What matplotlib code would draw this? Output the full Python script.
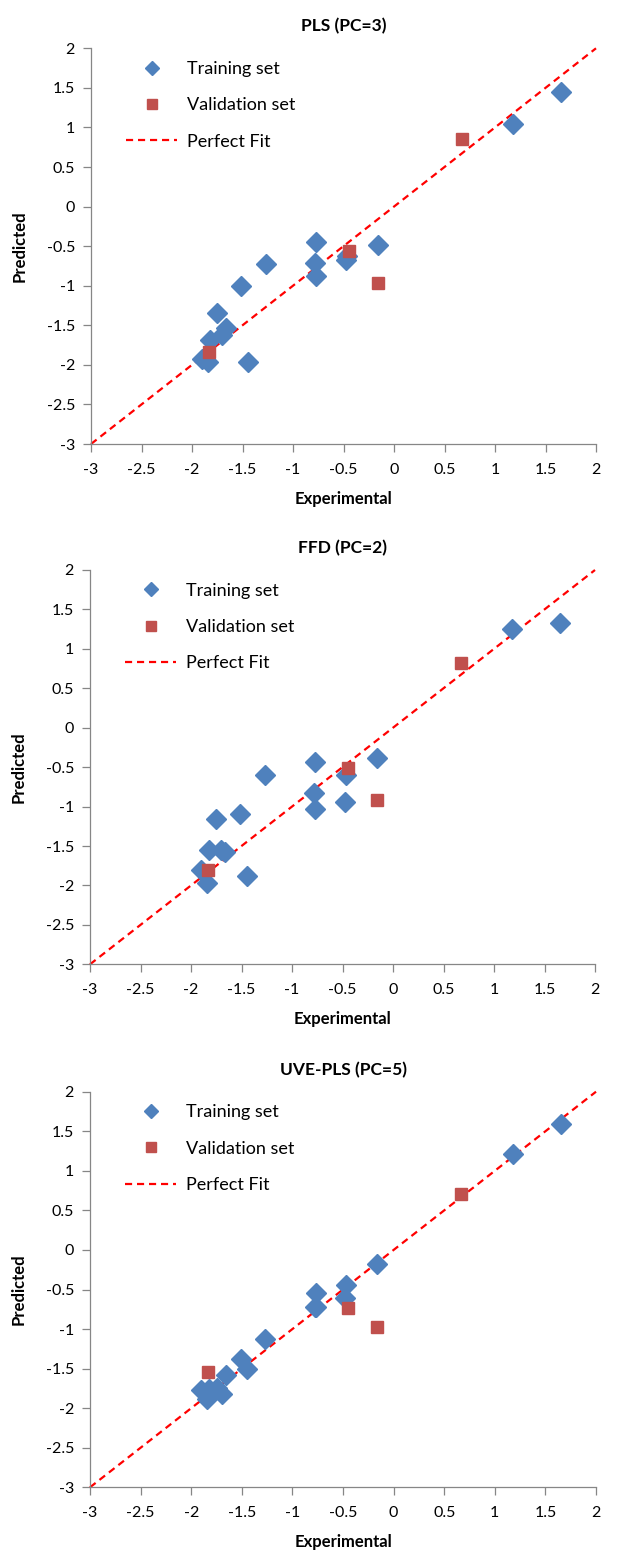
import matplotlib
matplotlib.use("Agg")
import matplotlib.pyplot as plt
from matplotlib.lines import Line2D

plt.rcParams['font.family'] = ['Lato', 'DejaVu Sans']

# ---- data ----
titles = ["PLS (PC=3)", "FFD (PC=2)", "UVE-PLS (PC=5)"]

train_exp = [1.65, 1.18, -0.16, -0.47, -0.48, -0.77, -0.78, -0.77, -1.27,
             -1.51, -1.75, -1.66, -1.70, -1.82, -1.90, -1.84, -1.45]
train_pred_pls = [1.45, 1.04, -0.48, -0.63, -0.67, -0.45, -0.71, -0.88, -0.73,
                  -1.00, -1.35, -1.53, -1.62, -1.68, -1.92, -1.96, -1.96]
train_pred_ffd = [1.33, 1.25, -0.38, -0.60, -0.94, -0.43, -0.83, -1.03, -0.60,
                  -1.10, -1.16, -1.57, -1.55, -1.55, -1.80, -1.97, -1.88]
train_pred_uve = [1.59, 1.21, -0.18, -0.44, -0.61, -0.54, -0.72, -0.72, -1.13,
                  -1.38, -1.75, -1.58, -1.82, -1.76, -1.77, -1.88, -1.50]

val_exp = [0.67, -0.45, -0.16, -1.83]
val_pred_pls = [0.86, -0.56, -0.97, -1.84]
val_pred_ffd = [0.82, -0.51, -0.92, -1.80]
val_pred_uve = [0.71, -0.73, -0.97, -1.54]

train_preds = [train_pred_pls, train_pred_ffd, train_pred_uve]
val_preds = [val_pred_pls, val_pred_ffd, val_pred_uve]

ticks = [-3, -2.5, -2, -1.5, -1, -0.5, 0, 0.5, 1, 1.5, 2]
tick_labels = ["-3", "-2.5", "-2", "-1.5", "-1", "-0.5", "0", "0.5", "1", "1.5", "2"]
fit_line = [-3, 2]

blue = "#4F81BD"
red = "#C0504D"
grey = "#868686"

W, H = 620, 1550
fig = plt.figure(figsize=(W / 100, H / 100), dpi=100)

# axes rectangles in pixels: (left, top(y=2), right, bottom(y=-3))
rects = [(91, 48.3, 596, 444), (90, 570, 595, 964.3), (90, 1091.7, 596, 1487.3)]

for i in range(3):
    l, t, r, b = rects[i]
    ax = fig.add_axes([l / W, 1 - b / H, (r - l) / W, (b - t) / H])
    ax.set_xlim(-3, 2)
    ax.set_ylim(-3, 2)
    ax.plot(fit_line, fit_line, color="#FF0000", lw=1.6, dashes=[3.2, 2.2],
            zorder=2, clip_on=False)
    ax.plot(train_exp, train_preds[i], ls="none", marker="D", ms=10,
            color=blue, mec=blue, zorder=3, clip_on=False)
    ax.plot(val_exp, val_preds[i], ls="none", marker="s", ms=8.2,
            color=red, mec=red, zorder=4, clip_on=False)
    for s in ["top", "right"]:
        ax.spines[s].set_visible(False)
    for s in ["left", "bottom"]:
        ax.spines[s].set_color(grey)
        ax.spines[s].set_linewidth(0.9)
    ax.set_xticks(ticks)
    ax.set_xticklabels(tick_labels)
    ax.set_yticks(ticks)
    ax.set_yticklabels(tick_labels)
    ax.tick_params(direction="out", length=5.5, width=0.9, color=grey,
                   labelsize=11.5, labelcolor="black")
    ax.tick_params(axis="x", pad=8)
    ax.tick_params(axis="y", pad=6)
    ax.set_xlabel("Experimental", fontsize=12, fontweight="bold", labelpad=10)
    ax.set_ylabel("Predicted", fontsize=12, fontweight="bold", labelpad=14)
    ax.set_title(titles[i], fontsize=12.5, fontweight="bold", pad=12)

    handles = [
        Line2D([], [], ls="none", marker="D", ms=7, color=blue),
        Line2D([], [], ls="none", marker="s", ms=7, color=red),
        Line2D([], [], color="#FF0000", lw=1.6, dashes=[3.2, 2.2]),
    ]
    ax.legend(handles, ["Training set", "Validation set", "Perfect Fit"],
              loc="upper left", bbox_to_anchor=(0.07, 0.968), frameon=False,
              fontsize=13, labelspacing=1.13, handlelength=2.8,
              handletextpad=0.55, borderpad=0, borderaxespad=0)

fig.savefig("out.png", dpi=100)
